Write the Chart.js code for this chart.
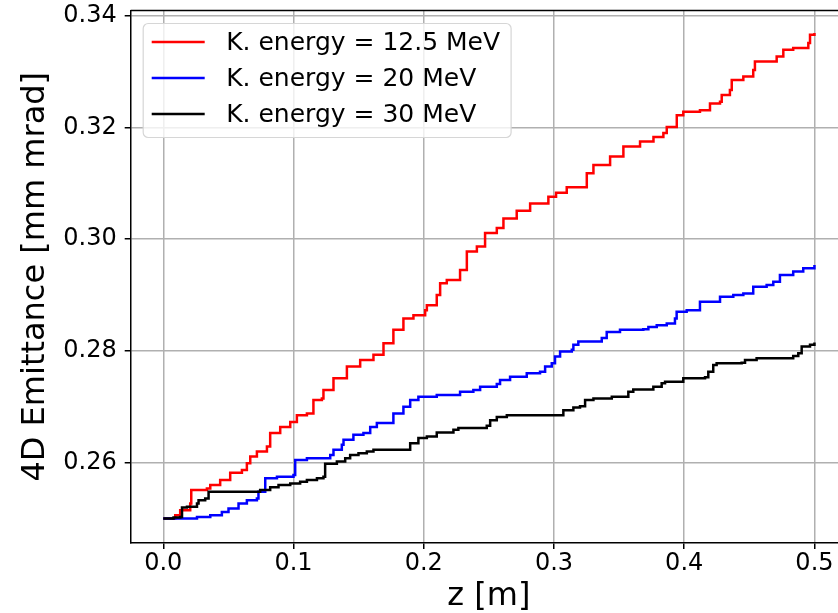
<!DOCTYPE html>
<html>
<head>
<meta charset="utf-8">
<script src="https://cdn.jsdelivr.net/npm/chart.js@4.4.0/dist/chart.umd.min.js"></script>
<style>
  html, body { margin: 0; padding: 0; background: #fff; overflow: hidden; }
  #wrap { position: relative; width: 860px; height: 613px; }
</style>
</head>
<body>
<div id="wrap"><canvas id="emitChart"></canvas></div>
<script>
// series labels
const seriesLabels = ['K. energy = 12.5 MeV', 'K. energy = 20 MeV', 'K. energy = 30 MeV'];

// K. energy = 12.5 MeV
const zRed = [0, 0.0092, 0.0130, 0.0207, 0.0215, 0.0335, 0.0361, 0.0437, 0.0514, 0.0604, 0.0642, 0.0668, 0.0719,
  0.0796, 0.0821, 0.0898, 0.0975, 0.1026, 0.1103, 0.1153, 0.1218, 0.1230, 0.1307, 0.1410, 0.1512, 0.1614, 0.1691,
  0.1767, 0.1844, 0.1921, 0.2011, 0.2024, 0.2100, 0.2126, 0.2177, 0.2266, 0.2279, 0.2331, 0.2408, 0.2471, 0.2561,
  0.2612, 0.2714, 0.2817, 0.2957, 0.3016, 0.3098, 0.3252, 0.3303, 0.3431, 0.3533, 0.3661, 0.3764, 0.3840, 0.3866,
  0.3943, 0.3993, 0.4121, 0.4198, 0.4275, 0.4288, 0.4351, 0.4365, 0.4454, 0.4530, 0.4543, 0.4710, 0.4761, 0.4837,
  0.4953, 0.4966, 0.5];
const emitRed = [0.2500, 0.2506, 0.2515, 0.2527, 0.2551, 0.2554, 0.2560, 0.2569, 0.2582, 0.2587, 0.2599, 0.2611, 0.2620,
  0.2629, 0.2653, 0.2664, 0.2673, 0.2685, 0.2688, 0.2712, 0.2715, 0.2730, 0.2751, 0.2772, 0.2784, 0.2793, 0.2814,
  0.2838, 0.2858, 0.2864, 0.2873, 0.2882, 0.2900, 0.2921, 0.2927, 0.2927, 0.2945, 0.2978, 0.2987, 0.3011, 0.3020,
  0.3037, 0.3051, 0.3064, 0.3076, 0.3083, 0.3093, 0.3118, 0.3133, 0.3148, 0.3166, 0.3175, 0.3183, 0.3190, 0.3201,
  0.3222, 0.3228, 0.3231, 0.3243, 0.3246, 0.3258, 0.3267, 0.3285, 0.3291, 0.3303, 0.3318, 0.3327, 0.3339, 0.3342,
  0.3351, 0.3366, 0.3369];

// K. energy = 20 MeV
const zBlue = [0, 0.0259, 0.0361, 0.0450, 0.0501, 0.0578, 0.0642, 0.0719, 0.0731, 0.0783, 0.0873, 0.1000, 0.1013,
  0.1103, 0.1282, 0.1307, 0.1371, 0.1384, 0.1460, 0.1537, 0.1589, 0.1640, 0.1729, 0.1767, 0.1844, 0.1896, 0.1959,
  0.2100, 0.2279, 0.2381, 0.2433, 0.2561, 0.2586, 0.2663, 0.2791, 0.2893, 0.2932, 0.2983, 0.3008, 0.3047, 0.3137,
  0.3149, 0.3187, 0.3367, 0.3405, 0.3507, 0.3686, 0.3725, 0.3789, 0.3866, 0.3929, 0.3942, 0.4019, 0.4121, 0.4275,
  0.4377, 0.4454, 0.4530, 0.4633, 0.4684, 0.4735, 0.4837, 0.4914, 0.5];
const emitBlue = [0.2500, 0.2503, 0.2506, 0.2512, 0.2518, 0.2527, 0.2533, 0.2536, 0.2548, 0.2572, 0.2575, 0.2578, 0.2605,
  0.2608, 0.2614, 0.2623, 0.2632, 0.2641, 0.2650, 0.2653, 0.2664, 0.2671, 0.2671, 0.2688, 0.2700, 0.2712, 0.2718,
  0.2721, 0.2727, 0.2730, 0.2736, 0.2741, 0.2748, 0.2754, 0.2760, 0.2763, 0.2772, 0.2778, 0.2790, 0.2799, 0.2802,
  0.2811, 0.2817, 0.2823, 0.2834, 0.2838, 0.2839, 0.2843, 0.2846, 0.2849, 0.2858, 0.2870, 0.2873, 0.2888, 0.2897,
  0.2900, 0.2903, 0.2915, 0.2918, 0.2924, 0.2936, 0.2942, 0.2948, 0.2954];

// K. energy = 30 MeV
const zBlack = [0, 0.0079, 0.0130, 0.0144, 0.0182, 0.0259, 0.0271, 0.0322, 0.0348, 0.0616, 0.0744, 0.0821, 0.0885,
  0.0975, 0.1051, 0.1103, 0.1180, 0.1230, 0.1243, 0.1333, 0.1397, 0.1435, 0.1499, 0.1563, 0.1614, 0.1870, 0.1896,
  0.1959, 0.2024, 0.2100, 0.2228, 0.2266, 0.2484, 0.2510, 0.2561, 0.2638, 0.3047, 0.3072, 0.3149, 0.3200, 0.3239,
  0.3303, 0.3444, 0.3571, 0.3609, 0.3763, 0.3827, 0.3853, 0.3993, 0.4160, 0.4185, 0.4223, 0.4249, 0.4441, 0.4467,
  0.4556, 0.4837, 0.4876, 0.4902, 0.4966, 0.5];
const emitBlack = [0.2500, 0.2502, 0.2503, 0.2520, 0.2521, 0.2527, 0.2533, 0.2536, 0.2548, 0.2548, 0.2551, 0.2556, 0.2560,
  0.2563, 0.2566, 0.2569, 0.2572, 0.2575, 0.2598, 0.2602, 0.2608, 0.2614, 0.2617, 0.2620, 0.2623, 0.2623, 0.2635,
  0.2644, 0.2647, 0.2654, 0.2659, 0.2662, 0.2666, 0.2676, 0.2682, 0.2685, 0.2685, 0.2694, 0.2699, 0.2701, 0.2712,
  0.2715, 0.2718, 0.2727, 0.2731, 0.2736, 0.2742, 0.2745, 0.2751, 0.2753, 0.2763, 0.2775, 0.2778, 0.2779, 0.2784,
  0.2787, 0.2791, 0.2796, 0.2808, 0.2811, 0.2815];

// tick labels
const xTicks = [0.0, 0.1, 0.2, 0.3, 0.4, 0.5];
const yTicks = [0.26, 0.28, 0.30, 0.32, 0.34];

const FONT = '"DejaVu Sans", sans-serif';

const toPoints = (xs, ys) => xs.map((x, i) => ({ x: x, y: ys[i] }));

// top spine (matplotlib box)
const topSpine = {
    id: 'topSpine',
    afterDraw(chart) {
        const { ctx, chartArea } = chart;
        ctx.save();
        ctx.strokeStyle = '#000';
        ctx.lineWidth = 1.5;
        ctx.beginPath();
        ctx.moveTo(chartArea.left, chartArea.top);
        ctx.lineTo(chartArea.right, chartArea.top);
        ctx.stroke();
        ctx.restore();
    }
};

// legend box in the upper left corner, matplotlib style
const innerLegend = {
    id: 'innerLegend',
    afterDraw(chart) {
        const { ctx, chartArea } = chart;
        const x0 = chartArea.left + 12.5, y0 = chartArea.top + 13;
        const rowH = 36, lineLen = 53, padL = 8.5, gap = 21.5, padR = 11;
        ctx.save();
        ctx.font = '25px ' + FONT;
        let maxW = 0;
        chart.data.datasets.forEach(ds => { maxW = Math.max(maxW, ctx.measureText(ds.label).width); });
        const w = padL + lineLen + gap + maxW + padR;
        const h = rowH * chart.data.datasets.length + 6;
        ctx.beginPath();
        ctx.roundRect(x0, y0, w, h, 5);
        ctx.fillStyle = 'rgba(255,255,255,0.8)';
        ctx.fill();
        ctx.strokeStyle = '#d6d6d6';
        ctx.lineWidth = 1.2;
        ctx.stroke();
        chart.data.datasets.forEach((ds, i) => {
            const cy = y0 + 19.5 + i * rowH;
            ctx.strokeStyle = ds.borderColor;
            ctx.lineWidth = ds.borderWidth;
            ctx.beginPath();
            ctx.moveTo(x0 + padL, cy - 1);
            ctx.lineTo(x0 + padL + lineLen, cy - 1);
            ctx.stroke();
            ctx.fillStyle = '#000';
            ctx.textBaseline = 'middle';
            ctx.textAlign = 'left';
            ctx.fillText(ds.label, x0 + padL + lineLen + gap, cy);
        });
        ctx.restore();
    }
};

new Chart(document.getElementById('emitChart'), {
    type: 'line',
    data: {
        datasets: [
            { label: seriesLabels[0], data: toPoints(zRed, emitRed), borderColor: '#ff0000', order: 2 },
            { label: seriesLabels[1], data: toPoints(zBlue, emitBlue), borderColor: '#0000ff', order: 1 },
            { label: seriesLabels[2], data: toPoints(zBlack, emitBlack), borderColor: '#000000', order: 0 }
        ].map(ds => Object.assign(ds, {
            borderWidth: 2.5,
            pointRadius: 0,
            stepped: true,
            fill: false
        }))
    },
    options: {
        responsive: true,
        maintainAspectRatio: false,
        animation: false,
        layout: { padding: { top: 10.5, right: 13, left: 0, bottom: 0 } },
        plugins: {
            legend: { display: false },
            tooltip: { enabled: false }
        },
        scales: {
            x: {
                type: 'linear',
                min: -0.025,
                max: 0.525,
                afterBuildTicks: s => { s.ticks = xTicks.map(v => ({ value: v })); },
                afterFit: s => { s.height = 70; s.paddingLeft = 0; s.paddingRight = 0; },
                ticks: {
                    callback: v => v.toFixed(1),
                    font: { family: FONT, size: 24, lineHeight: 1.2 },
                    color: '#000',
                    padding: 0,
                    maxRotation: 0
                },
                grid: { color: '#b0b0b0', lineWidth: 1.5, tickColor: '#000', tickLength: 6, tickWidth: 1.5 },
                border: { display: true, color: '#000', width: 1.5 },
                title: {
                    display: true,
                    text: 'z [m]',
                    color: '#000',
                    font: { family: FONT, size: 32, lineHeight: 1 },
                    padding: 0
                }
            },
            y: {
                type: 'linear',
                min: 0.24563,
                max: 0.34093,
                afterBuildTicks: s => { s.ticks = yTicks.map(v => ({ value: v })); },
                afterFit: s => { s.width = 130.7; s.paddingTop = 0; s.paddingBottom = 0; },
                ticks: {
                    callback: v => v.toFixed(2),
                    font: { family: FONT, size: 24, lineHeight: 1.2 },
                    color: '#000',
                    padding: 8
                },
                grid: { color: '#b0b0b0', lineWidth: 1.5, tickColor: '#000', tickLength: 6, tickWidth: 1.5 },
                border: { display: true, color: '#000', width: 1.5 },
                title: {
                    display: true,
                    text: '4D Emittance [mm mrad]',
                    color: '#000',
                    font: { family: FONT, size: 32, lineHeight: 1 },
                    padding: { top: 20, bottom: 0 }
                }
            }
        }
    },
    plugins: [topSpine, innerLegend]
});
</script>
</body>
</html>
